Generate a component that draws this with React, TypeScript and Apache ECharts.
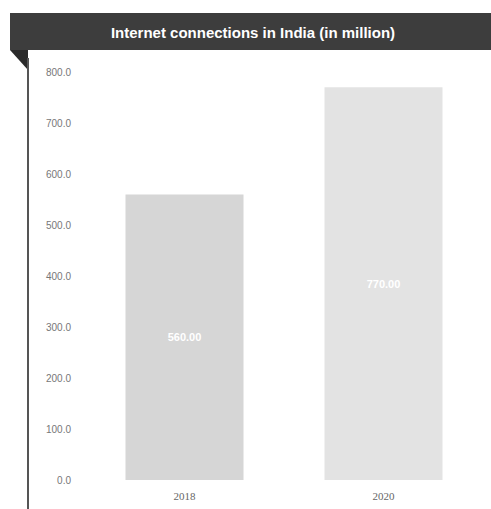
import React, { useEffect, useRef } from "react";
import * as echarts from "echarts";

const categories = ["2018", "2020"];
const values = [560, 770];
const barColors = ["#d6d6d6", "#e3e3e3"];
const yTicks = { min: 0, max: 800, interval: 100 };
const titleText = "Internet connections in India (in million)";

export default function App() {
  const ref = useRef<HTMLDivElement>(null);
  useEffect(() => {
    if (!ref.current) return;
    const chart = echarts.init(ref.current, null, { renderer: "svg" });
    chart.setOption({
      animation: false,
      backgroundColor: "#ffffff",
      graphic: [
        { type: "rect", shape: { x: 10, y: 13, width: 481, height: 37 }, style: { fill: "#3d3d3d" }, z: 10 },
        { type: "polygon", shape: { points: [[10, 50], [28, 50], [28, 70]] }, style: { fill: "#2b2b2b" }, z: 10 },
        { type: "line", shape: { x1: 28, y1: 58, x2: 28, y2: 509 }, style: { stroke: "#555555", lineWidth: 2 }, z: 10 },
        {
          type: "text",
          x: 253,
          y: 32,
          style: {
            text: titleText,
            fill: "#ffffff",
            font: "bold 15px 'Liberation Sans', Arial, sans-serif",
            align: "center",
            verticalAlign: "middle",
          },
          z: 11,
        },
      ],
      grid: { left: 85, right: 8, top: 72, bottom: 29 },
      xAxis: {
        type: "category",
        data: categories,
        axisLine: { show: false },
        axisTick: { show: false },
        axisLabel: { color: "#666666", fontSize: 11, fontFamily: "'Liberation Serif', serif", margin: 10 },
      },
      yAxis: {
        type: "value",
        min: yTicks.min,
        max: yTicks.max,
        interval: yTicks.interval,
        splitLine: { show: false },
        axisLine: { show: false },
        axisTick: { show: false },
        axisLabel: {
          color: "#777777",
          fontSize: 10,
          fontFamily: "'Liberation Sans', Arial, sans-serif",
          margin: 14,
          formatter: (v: number) => v.toFixed(1),
        },
      },
      series: [
        {
          type: "bar",
          barWidth: 118,
          data: values.map((v, i) => ({ value: v, itemStyle: { color: barColors[i] } })),
          label: {
            show: true,
            position: "inside",
            color: "#ffffff",
            fontSize: 11,
            fontWeight: "bold",
            fontFamily: "'Liberation Sans', Arial, sans-serif",
            formatter: (p: any) => Number(p.value).toFixed(2),
          },
        },
      ],
    });
    return () => chart.dispose();
  }, []);
  return <div ref={ref} style={{ width: 491, height: 509, position: "fixed", left: 0, top: 0 }} />;
}
